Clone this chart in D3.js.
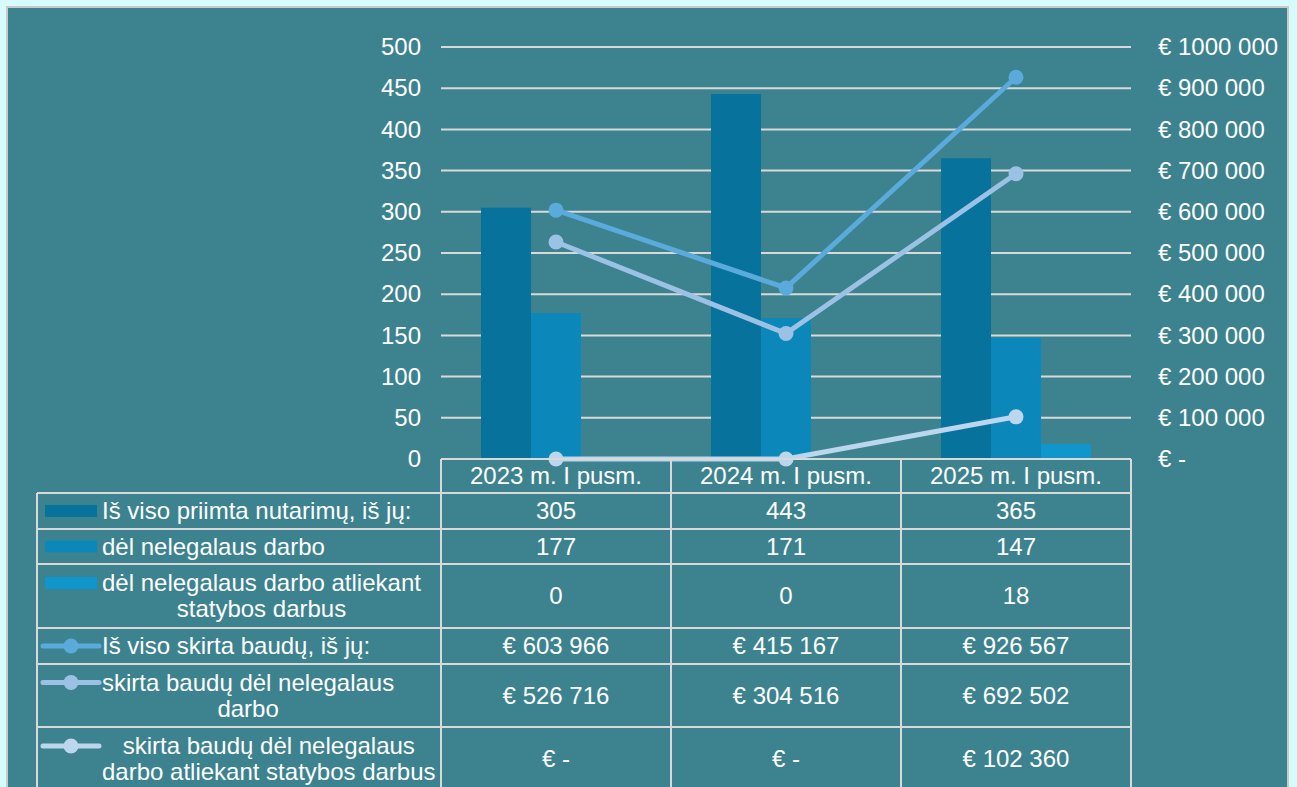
<!DOCTYPE html>
<html>
<head>
<meta charset="utf-8">
<script src="https://cdn.jsdelivr.net/npm/d3@7"></script>
<style>
  body { margin: 0; background: #d7fafd; font-family: "Liberation Sans", Arial, sans-serif; }
  svg text { fill: #ffffff; font-size: 24px; }
</style>
</head>
<body>
<div id="chart"></div>
<script>
// Categories and series values
const categories = ["2023 m. I pusm.", "2024 m. I pusm.", "2025 m. I pusm."];
const barNames = [
  ["Iš viso priimta nutarimų, iš jų:"],
  ["dėl nelegalaus darbo"],
  ["dėl nelegalaus darbo atliekant", "statybos darbus"]
];
const barValues = [
  [305, 443, 365],
  [177, 171, 147],
  [0, 0, 18]
];
const lineNames = [
  ["Iš viso skirta baudų, iš jų:"],
  ["skirta baudų dėl nelegalaus", "darbo"],
  ["skirta baudų dėl nelegalaus", "darbo atliekant statybos darbus"]
];
const lineValues = [
  [603966, 415167, 926567],
  [526716, 304516, 692502],
  [0, 0, 102360]
];
const leftTicks = [0, 50, 100, 150, 200, 250, 300, 350, 400, 450, 500];
const rightTicks = [0, 100000, 200000, 300000, 400000, 500000, 600000, 700000, 800000, 900000, 1000000];
const rightTickLabels = ["€ -", "€ 100 000", "€ 200 000", "€ 300 000", "€ 400 000", "€ 500 000",
  "€ 600 000", "€ 700 000", "€ 800 000", "€ 900 000", "€ 1000 000"];

const barColors = ["#07729b", "#0c87b9", "#0f96cd"];
const lineColors = ["#5aaadb", "#9bc2e5", "#bcd6ee"];

const width = 1297, height = 787;
const svg = d3.select("#chart").append("svg")
  .attr("width", width).attr("height", height);

// chart frame
svg.append("rect")
  .attr("x", 7).attr("y", 7).attr("width", 1281).attr("height", 800)
  .attr("fill", "#3c838f").attr("stroke", "#c9c9c9").attr("stroke-width", 2);

const plotLeft = 441, plotRight = 1131, plotTop = 47, plotBottom = 459;

const x = d3.scaleBand().domain(categories).range([plotLeft, plotRight]);
const xInner = d3.scaleBand().domain([0, 1, 2]).range([40, x.bandwidth() - 40]);
const yLeft = d3.scaleLinear().domain([0, 500]).range([plotBottom, plotTop]);
const yRight = d3.scaleLinear().domain([0, 1000000]).range([plotBottom, plotTop]);

// gridlines
svg.append("g")
  .selectAll("line")
  .data(leftTicks.filter(d => d > 0))
  .join("line")
  .attr("x1", plotLeft).attr("x2", plotRight)
  .attr("y1", d => yLeft(d)).attr("y2", d => yLeft(d))
  .attr("stroke", "#d9d9d9").attr("stroke-width", 2);

// left axis
const gLeft = svg.append("g")
  .attr("transform", `translate(${plotLeft},0)`)
  .call(d3.axisLeft(yLeft).tickValues(leftTicks).tickSize(0).tickPadding(20));
gLeft.select(".domain").remove();
gLeft.selectAll("text").attr("fill", "#fff").style("font-size", "24px").style("font-family", "Liberation Sans, Arial");

// right axis
const gRight = svg.append("g")
  .attr("transform", `translate(${plotRight},0)`)
  .call(d3.axisRight(yRight).tickValues(rightTicks).tickSize(0).tickPadding(27)
    .tickFormat((d, i) => rightTickLabels[i]));
gRight.select(".domain").remove();
gRight.selectAll("text").attr("fill", "#fff").style("font-size", "24px").style("font-family", "Liberation Sans, Arial");

// bars
barValues.forEach(function(vals, s) {
  svg.append("g")
    .selectAll("rect")
    .data(vals)
    .join("rect")
    .attr("x", (d, i) => x(categories[i]) + xInner(s))
    .attr("width", xInner.bandwidth())
    .attr("y", d => yLeft(d))
    .attr("height", d => plotBottom - yLeft(d))
    .attr("fill", barColors[s]);
});

// lines
const lineGen = d3.line()
  .x((d, i) => x(categories[i]) + x.bandwidth() / 2)
  .y(d => yRight(d));

lineValues.forEach(function(vals, s) {
  const g = svg.append("g");
  g.append("path")
    .attr("d", lineGen(vals))
    .attr("fill", "none")
    .attr("stroke", lineColors[s])
    .attr("stroke-width", 5);
  g.selectAll("circle")
    .data(vals)
    .join("circle")
    .attr("cx", (d, i) => x(categories[i]) + x.bandwidth() / 2)
    .attr("cy", d => yRight(d))
    .attr("r", 7.5)
    .attr("fill", lineColors[s]);
});

// data table
const rowEdges = [459, 493, 529, 564, 628, 664, 727, 791];
const tableLeft = 37;
const borderColor = "#d9d9d9";
const table = svg.append("g");

// header row
table.append("line")
  .attr("x1", plotLeft).attr("x2", plotRight)
  .attr("y1", rowEdges[0]).attr("y2", rowEdges[0])
  .attr("stroke", borderColor).attr("stroke-width", 2);
rowEdges.slice(1).forEach(function(yy) {
  table.append("line")
    .attr("x1", tableLeft).attr("x2", plotRight)
    .attr("y1", yy).attr("y2", yy)
    .attr("stroke", borderColor).attr("stroke-width", 2);
});
table.append("line")
  .attr("x1", tableLeft).attr("x2", tableLeft)
  .attr("y1", rowEdges[1]).attr("y2", rowEdges[7])
  .attr("stroke", borderColor).attr("stroke-width", 2);
[plotLeft, x(categories[1]), x(categories[2]), plotRight].forEach(function(xx) {
  table.append("line")
    .attr("x1", xx).attr("x2", xx)
    .attr("y1", rowEdges[0]).attr("y2", rowEdges[7])
    .attr("stroke", borderColor).attr("stroke-width", 2);
});

table.selectAll(".cat")
  .data(categories)
  .join("text")
  .attr("x", d => x(d) + x.bandwidth() / 2)
  .attr("y", (rowEdges[0] + rowEdges[1]) / 2)
  .attr("dy", "0.35em")
  .attr("text-anchor", "middle")
  .text(d => d);

const fmtEuro = d => d === 0 ? "€ -" : "€ " + d3.format(",")(d).replace(/,/g, " ");

const rows = [];
barNames.forEach((n, s) => rows.push({ name: n, type: "bar", s: s, vals: barValues[s].map(String) }));
lineNames.forEach((n, s) => rows.push({ name: n, type: "line", s: s, vals: lineValues[s].map(fmtEuro) }));

rows.forEach(function(r, ri) {
  const cy = (rowEdges[ri + 1] + rowEdges[ri + 2]) / 2;
  const firstY = r.name.length > 1 ? cy - 13 : cy;
  const g = table.append("g");
  // legend key
  if (r.type === "bar") {
    g.append("rect")
      .attr("x", 45).attr("y", firstY - 6).attr("width", 52).attr("height", 12)
      .attr("fill", barColors[r.s]);
  } else {
    g.append("line")
      .attr("x1", 43).attr("x2", 99).attr("y1", firstY).attr("y2", firstY)
      .attr("stroke", lineColors[r.s]).attr("stroke-width", 5).attr("stroke-linecap", "round");
    g.append("circle")
      .attr("cx", 71).attr("cy", firstY).attr("r", 7.5).attr("fill", lineColors[r.s]);
  }
  // label (multi-line centred on widest line)
  const label = g.append("text").attr("text-anchor", "middle");
  label.selectAll("tspan")
    .data(r.name)
    .join("tspan")
    .attr("y", (d, i) => firstY + i * 26)
    .attr("dy", "0.35em")
    .text(d => d);
  let maxW = 0;
  label.selectAll("tspan").each(function() { maxW = Math.max(maxW, this.getComputedTextLength()); });
  label.selectAll("tspan").attr("x", 102 + maxW / 2);
  // values
  g.selectAll(".val")
    .data(r.vals)
    .join("text")
    .attr("x", (d, i) => x(categories[i]) + x.bandwidth() / 2)
    .attr("y", cy)
    .attr("dy", "0.35em")
    .attr("text-anchor", "middle")
    .text(d => d);
});
</script>
</body>
</html>
